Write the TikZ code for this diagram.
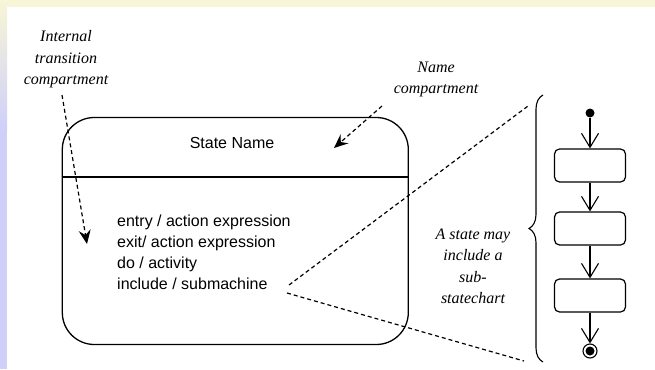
\documentclass[tikz,border=0pt]{standalone}
\usepackage{fontspec}
\setmainfont{Liberation Serif}
\setsansfont{Liberation Sans}
\usetikzlibrary{arrows.meta,decorations.pathreplacing}
\definecolor{bandyellow}{HTML}{F8F6D6}
\definecolor{bandlilac}{HTML}{CFCFFA}
\begin{document}
\begin{tikzpicture}[x=1pt,y=-1pt,
  note/.style={font=\fontsize{16}{21.5}\selectfont\itshape, align=center, inner sep=0pt},
  body/.style={font=\sffamily\fontsize{16}{21}\selectfont, inner sep=0pt},
  pointer/.style={line width=1.2pt, dash pattern=on 4pt off 3pt,
    -{Stealth[length=14pt,width=12pt,inset=5pt]}},
  zoomline/.style={line width=1.2pt, dash pattern=on 4pt off 3pt},
  substate/.style={draw, line width=1.2pt, rounded corners=5pt,
    minimum width=71pt, minimum height=33pt, inner sep=0pt},
  flow/.style={line width=1.1pt, -{Straight Barb[length=14pt,width=17pt]}},
]
\useasboundingbox (0,0) rectangle (655,369);
% slide frame bands
\fill[bandyellow] (0,0) rectangle (655,7);
\shade[top color=bandyellow, bottom color=bandlilac] (0,0) rectangle (7,130);
\fill[bandlilac] (0,130) rectangle (7,369);

% the state with its two compartments
\node[draw, line width=1.3pt, rounded corners=32pt,
  minimum width=346pt, minimum height=227pt] (state) at (235.3,231) {};
\coordinate (divy) at (0,177);
\draw[line width=2pt] (state.west |- divy) -- (state.east |- divy);
\node[body] (name) at (232,143) {State Name};
\node[body, align=left, anchor=north west] (acts) at (117,215)
  {entry / action expression\\exit/ action expression\\do / activity\\include / submachine};

% annotations
\node[note] (itc) at (66,59.5) {Internal\\transition\\compartment};
\node[note] (nc) at (436,79.5) {Name\\compartment};
\node[note] (sub) at (473,266.5) {A state may\\include a\\sub-\\statechart};

\coordinate (itcTail) at (62,95);
\coordinate (itcTip) at (87,244);
\draw[pointer] (itcTail) -- (itcTip);
\coordinate (ncTail) at (382,106);
\coordinate (ncTip) at (334,148);
\draw[pointer] (ncTail) -- (ncTip);

% expansion of the submachine
\coordinate (inclA) at (289,285);
\coordinate (inclB) at (287,293);
\coordinate (zoomTop) at (528,106);
\coordinate (zoomBot) at (524,361);
\draw[zoomline] (inclA) -- (zoomTop);
\draw[zoomline] (inclB) -- (zoomBot);

\coordinate (braceLow) at (543,362);
\coordinate (braceHigh) at (543,95);
\draw[line width=1.1pt, decorate, decoration={brace, amplitude=14pt}] (braceLow) -- (braceHigh);

% nested statechart
\node[circle, fill, inner sep=0pt, minimum size=9pt] (init) at (590,113) {};
\node[substate] (s1) at (590,165.5) {};
\node[substate] (s2) at (590,228.5) {};
\node[substate] (s3) at (590,295.5) {};
\node[circle, draw, line width=1.1pt, inner sep=0pt, minimum size=14pt] (fin) at (590,351) {};
\fill (fin.center) circle (4.5pt);
\draw[flow] (init) -- (s1);
\draw[flow] (s1) -- (s2);
\draw[flow] (s2) -- (s3);
\draw[flow] (s3) -- (fin);
\end{tikzpicture}
\end{document}
